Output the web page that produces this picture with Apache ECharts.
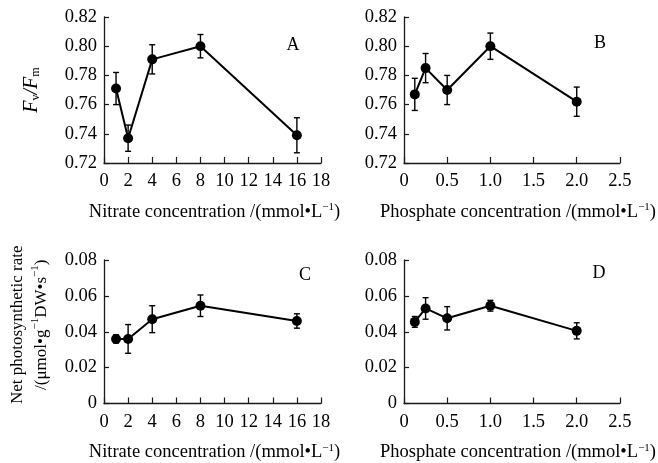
<!DOCTYPE html>
<html><head><meta charset="utf-8">
<script src="https://cdn.jsdelivr.net/npm/echarts@6/dist/echarts.min.js"></script>
<style>html,body{margin:0;padding:0;background:#fff}#c{width:658px;height:463px}</style>
</head><body><div id="c"></div>
<script>
var nitrateX = [1, 2, 4, 8, 16];
var phosphateX = [0.125, 0.25, 0.5, 1, 2];
var fvfmNitrate = [0.771, 0.737, 0.791, 0.800, 0.739];
var fvfmNitrateErr = [0.011, 0.009, 0.010, 0.008, 0.012];
var fvfmPhosphate = [0.767, 0.785, 0.770, 0.800, 0.762];
var fvfmPhosphateErr = [0.011, 0.010, 0.010, 0.009, 0.010];
var pnNitrate = [0.036, 0.036, 0.047, 0.0545, 0.046];
var pnNitrateErr = [0.0023, 0.008, 0.0075, 0.006, 0.004];
var pnPhosphate = [0.0455, 0.053, 0.0475, 0.0545, 0.0405];
var pnPhosphateErr = [0.003, 0.006, 0.0065, 0.003, 0.0045];
var panelLabels = ['A', 'B', 'C', 'D'];

var FONT = '"Liberation Serif", "Times New Roman", serif';
var AX = '#1a1a1a';

function pairs(xs, ys) { return xs.map(function (x, i) { return [x, ys[i]]; }); }
function errs(xs, ys, es) { return xs.map(function (x, i) { return [x, ys[i] - es[i], ys[i] + es[i]]; }); }

var grids = [
  { left: 104, top: 17, width: 217, height: 146 },
  { left: 404, top: 17, width: 217, height: 146 },
  { left: 104, top: 260, width: 217, height: 144 },
  { left: 404, top: 260, width: 217, height: 144 }
];

var xNameRich = {
  n: { fontFamily: FONT, fontSize: 18.5, color: '#000' },
  s: { fontFamily: FONT, fontSize: 11, color: '#000', verticalAlign: 'top', padding: [0, 0, 9, 0] }
};
function xAxisCfg(idx, nitrate) {
  return {
    gridIndex: idx, type: 'value', min: 0,
    max: nitrate ? 18 : 2.5, interval: nitrate ? 2 : 0.5,
    name: nitrate ? '{n|Nitrate concentration /(mmol•L}{s|−1}{n|)}' : '{n|Phosphate concentration /(mmol•L}{s|−1}{n|)}',
    nameLocation: 'middle', nameGap: 39,
    nameTextStyle: { rich: xNameRich, padding: nitrate ? [0, 0, 0, 4] : [0, 0, 0, 12] },
    axisLine: { lineStyle: { color: AX, width: 1.3 } },
    axisTick: { inside: true, length: 6, lineStyle: { color: AX, width: 1.2 } },
    axisLabel: {
      fontFamily: FONT, fontSize: 18.5, color: '#000', margin: 9,
      formatter: function (v) { return nitrate ? String(v) : (v === 0 ? '0' : v.toFixed(1)); }
    },
    splitLine: { show: false }
  };
}
function yAxisCfg(idx, fv) {
  var cfg = {
    gridIndex: idx, type: 'value',
    min: fv ? 0.72 : 0, max: fv ? 0.82 : 0.08, interval: 0.02,
    axisLine: { show: true, lineStyle: { color: AX, width: 1.3 } },
    axisTick: { show: true, inside: true, length: 5, lineStyle: { color: AX, width: 1.2 } },
    axisLabel: {
      fontFamily: FONT, fontSize: 18.5, color: '#000', margin: 7,
      formatter: function (v) { return v === 0 ? '0' : v.toFixed(2); }
    },
    splitLine: { show: false }
  };
  if (idx === 0) {
    cfg.name = '{i|F}{sb|v}{i|/F}{sb|m}';
    cfg.nameLocation = 'middle';
    cfg.nameGap = 62;
    cfg.nameTextStyle = {
      rich: {
        i: { fontFamily: FONT, fontStyle: 'italic', fontSize: 20, color: '#000' },
        sb: { fontFamily: FONT, fontSize: 12, color: '#000', verticalAlign: 'bottom', padding: [7, 0, 0, 0] }
      }
    };
  }
  if (idx === 2) {
    cfg.name = '{n|Net photosynthetic rate}\n{n|/(μmol•g}{s|−1}{n|DW•s}{s|−1}{n|)}';
    cfg.nameLocation = 'middle';
    cfg.nameGap = 50;
    cfg.nameTextStyle = {
      lineHeight: 24,
      padding: [0, 0, 0, 14],
      rich: {
        n: { fontFamily: FONT, fontSize: 17, color: '#000', lineHeight: 24 },
        s: { fontFamily: FONT, fontSize: 11, color: '#000', verticalAlign: 'top', padding: [0, 0, 9, 0], lineHeight: 24 }
      }
    };
  }
  return cfg;
}

function lineSeries(idx, data) {
  return {
    type: 'line', xAxisIndex: idx, yAxisIndex: idx, data: data,
    symbol: 'circle', symbolSize: 10, z: 3,
    itemStyle: { color: '#000' },
    lineStyle: { color: '#000', width: 2 }
  };
}
function errSeries(idx, data) {
  return {
    type: 'custom', xAxisIndex: idx, yAxisIndex: idx, data: data, z: 2,
    renderItem: function (params, api) {
      var lo = api.coord([api.value(0), api.value(1)]);
      var hi = api.coord([api.value(0), api.value(2)]);
      var w = 3;
      var st = { stroke: '#000', lineWidth: 1.4 };
      return {
        type: 'group',
        children: [
          { type: 'line', shape: { x1: lo[0], y1: lo[1], x2: hi[0], y2: hi[1] }, style: st },
          { type: 'line', shape: { x1: lo[0] - w, y1: lo[1], x2: lo[0] + w, y2: lo[1] }, style: st },
          { type: 'line', shape: { x1: hi[0] - w, y1: hi[1], x2: hi[0] + w, y2: hi[1] }, style: st }
        ]
      };
    }
  };
}

var labelPos = [[293, 45], [600, 43], [305, 275], [599, 273]];

var option = {
  animation: false,
  backgroundColor: '#fff',
  grid: grids,
  xAxis: [xAxisCfg(0, true), xAxisCfg(1, false), xAxisCfg(2, true), xAxisCfg(3, false)],
  yAxis: [yAxisCfg(0, true), yAxisCfg(1, true), yAxisCfg(2, false), yAxisCfg(3, false)],
  series: [
    errSeries(0, errs(nitrateX, fvfmNitrate, fvfmNitrateErr)),
    lineSeries(0, pairs(nitrateX, fvfmNitrate)),
    errSeries(1, errs(phosphateX, fvfmPhosphate, fvfmPhosphateErr)),
    lineSeries(1, pairs(phosphateX, fvfmPhosphate)),
    errSeries(2, errs(nitrateX, pnNitrate, pnNitrateErr)),
    lineSeries(2, pairs(nitrateX, pnNitrate)),
    errSeries(3, errs(phosphateX, pnPhosphate, pnPhosphateErr)),
    lineSeries(3, pairs(phosphateX, pnPhosphate))
  ],
  graphic: panelLabels.map(function (t, i) {
    return {
      type: 'text', x: labelPos[i][0], y: labelPos[i][1],
      style: { text: t, fontFamily: FONT, fontSize: 18, fill: '#000', textAlign: 'center', textVerticalAlign: 'middle' }
    };
  })
};

var chart = echarts.init(document.getElementById('c'), null, { renderer: 'canvas' });
chart.setOption(option);
</script>
</body></html>
